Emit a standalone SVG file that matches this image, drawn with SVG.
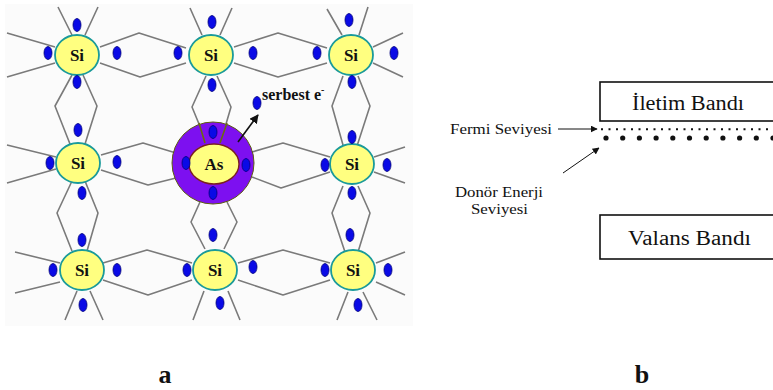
<svg xmlns="http://www.w3.org/2000/svg" width="773" height="390" viewBox="0 0 773 390">
  <defs>
    <style>
      .bond { fill: none; stroke: #7a7a7a; stroke-width: 1.6; stroke-linejoin: round; }
      .bond-in { fill: none; stroke: #6b6b10; stroke-width: 1.6; }
      .si { fill: #ffff80; stroke: #1a9a9a; stroke-width: 1.8; }
      .el { fill: #0a0ae6; stroke: #00007a; stroke-width: 0.8; }
      .lbl { font-family: 'Liberation Serif', 'DejaVu Serif', 'Times New Roman', serif; font-weight: bold; fill: #111; }
      .serif { font-family: 'Liberation Serif', 'DejaVu Serif', 'Times New Roman', serif; fill: #111; }
      .box { fill: #fff; stroke: #111; stroke-width: 1.6; }
      .pt { fill: #111; }
    </style>
    <marker id="ah" viewBox="0 0 10 10" refX="9" refY="5" markerWidth="7" markerHeight="7" orient="auto" markerUnits="userSpaceOnUse">
      <path d="M0,0 L10,5 L0,10 Z" fill="#111"/>
    </marker>
    <marker id="ah2" viewBox="0 0 10 10" refX="9" refY="5" markerWidth="9" markerHeight="9" orient="auto" markerUnits="userSpaceOnUse">
      <path d="M0,0 L10,5 L0,10 Z" fill="#111"/>
    </marker>
    <ellipse id="e" cx="0" cy="0" rx="4" ry="6.5" class="el"/>
  </defs>

  <!-- panel a: silicon lattice with arsenic donor -->
  <rect x="5" y="4" width="408" height="322" fill="#fbfbfb"/>

  <g id="connectors">
    <!-- horizontal bonds -->
    <path class="bond" d="M100,47 L139,33 L186,48 M100,63 L140,77 L186,63"/>
    <path class="bond" d="M234,47 L278,33 L327,48 M234,63 L278,77 L327,63"/>
    <path class="bond" d="M101,155 L143,143 L176,153 M101,170 L148,185 L176,178"/>
    <path class="bond" d="M252,152 L283,143 L330,157 M252,177 L281,188 L330,172"/>
    <path class="bond" d="M103,263 L147,250 L192,263 M103,280 L148,295 L192,280"/>
    <path class="bond" d="M238,263 L283,250 L330,263 M238,280 L283,295 L330,280"/>
    <!-- vertical bonds -->
    <path class="bond" d="M72,75 L55,106 L70,144 M83,75 L97,106 L85,144"/>
    <path class="bond" d="M206,76 L192,107 L199,124 M217,76 L231,107 L226,124"/>
    <path class="bond" d="M343,76 L332,106 L343,145 M358,76 L370,106 L357,146"/>
    <path class="bond" d="M72,181 L57,213 L72,251 M85,181 L98,213 L87,251"/>
    <path class="bond" d="M200,202 L191,222 L205,249 M227,202 L237,222 L224,249"/>
    <path class="bond" d="M343,186 L332,213 L345,252 M358,186 L370,213 L358,252"/>
    <!-- outer spokes -->
    <path class="bond" d="M58,7 L72,35 M98,7 L85,35 M7,33 L55,47 M7,77 L55,63"/>
    <path class="bond" d="M190,8 L202,35 M232,8 L220,35"/>
    <path class="bond" d="M327,9 L342,35 M368,7 L359,35 M373,47 L403,33 M373,63 L403,77"/>
    <path class="bond" d="M7,145 L56,157 M7,183 L56,169"/>
    <path class="bond" d="M374,157 L405,147 M374,172 L405,183"/>
    <path class="bond" d="M15,252 L60,263 M15,293 L60,282 M77,291 L65,320 M90,291 L103,320"/>
    <path class="bond" d="M204,291 L193,320 M228,291 L240,320"/>
    <path class="bond" d="M376,263 L405,252 M376,282 L405,295 M348,292 L337,320 M363,292 L377,320"/>
  </g>

  <!-- arsenic donor -->
  <g id="as">
    <circle cx="213" cy="163" r="41" fill="#7d10f0" stroke="#5c5c10" stroke-width="1"/>
    <path class="bond-in" d="M199,123 L205,143 M227,123 L220,143"/>
    <ellipse cx="214" cy="164" rx="25" ry="20" fill="#ffff80" stroke="#7a2020" stroke-width="1.4"/>
    <text class="lbl" x="214" y="170" font-size="17" text-anchor="middle">As</text>
  </g>

  <!-- silicon atoms -->
  <g id="si-1"><ellipse class="si" cx="77" cy="55" rx="22" ry="20"/><text class="lbl" x="77" y="61" font-size="17" text-anchor="middle">Si</text></g>
  <g id="si-2"><ellipse class="si" cx="211" cy="55" rx="22" ry="20"/><text class="lbl" x="211" y="61" font-size="17" text-anchor="middle">Si</text></g>
  <g id="si-3"><ellipse class="si" cx="351" cy="55" rx="22" ry="20"/><text class="lbl" x="351" y="61" font-size="17" text-anchor="middle">Si</text></g>
  <g id="si-4"><ellipse class="si" cx="78" cy="163" rx="22" ry="20"/><text class="lbl" x="78" y="169" font-size="17" text-anchor="middle">Si</text></g>
  <g id="si-5"><ellipse class="si" cx="352" cy="164" rx="22" ry="20"/><text class="lbl" x="352" y="170" font-size="17" text-anchor="middle">Si</text></g>
  <g id="si-6"><ellipse class="si" cx="82" cy="270" rx="22" ry="20"/><text class="lbl" x="82" y="276" font-size="17" text-anchor="middle">Si</text></g>
  <g id="si-7"><ellipse class="si" cx="215" cy="270" rx="22" ry="20"/><text class="lbl" x="215" y="276" font-size="17" text-anchor="middle">Si</text></g>
  <g id="si-8"><ellipse class="si" cx="353" cy="270" rx="22" ry="20"/><text class="lbl" x="353" y="276" font-size="17" text-anchor="middle">Si</text></g>

  <!-- valence electrons -->
  <g id="electrons">
    <use href="#e" x="77" y="25"/><use href="#e" x="48" y="53"/><use href="#e" x="117" y="53"/><use href="#e" x="77" y="82"/>
    <use href="#e" x="212" y="22"/><use href="#e" x="178" y="53"/><use href="#e" x="253" y="53"/><use href="#e" x="212" y="85"/>
    <use href="#e" x="349" y="20"/><use href="#e" x="317" y="53"/><use href="#e" x="394" y="53"/><use href="#e" x="352" y="82"/>
    <use href="#e" x="78" y="130"/><use href="#e" x="50" y="163"/><use href="#e" x="117" y="162"/><use href="#e" x="82" y="193"/>
    <use href="#e" x="213" y="132"/><use href="#e" x="186" y="163"/><use href="#e" x="246" y="165"/><use href="#e" x="213" y="193"/>
    <use href="#e" x="352" y="137"/><use href="#e" x="325" y="165"/><use href="#e" x="387" y="165"/><use href="#e" x="352" y="193"/>
    <use href="#e" x="82" y="240"/><use href="#e" x="53" y="270"/><use href="#e" x="117" y="270"/><use href="#e" x="83" y="305"/>
    <use href="#e" x="213" y="235"/><use href="#e" x="187" y="270"/><use href="#e" x="253" y="267"/><use href="#e" x="220" y="303"/>
    <use href="#e" x="350" y="235"/><use href="#e" x="325" y="270"/><use href="#e" x="388" y="270"/><use href="#e" x="358" y="305"/>
  </g>

  <!-- free electron -->
  <g id="free-electron">
    <use href="#e" x="257" y="103"/>
    <line x1="238" y1="142" x2="258" y2="115" stroke="#111" stroke-width="1.6" marker-end="url(#ah2)"/>
    <text class="lbl" x="262" y="100" font-size="16">serbest e<tspan dy="-7" font-size="10">-</tspan></text>
  </g>

  <text class="lbl" x="165" y="383" font-size="26" text-anchor="middle">a</text>

  <!-- panel b: band diagram -->
  <g id="iletim">
    <rect class="box" x="600" y="82" width="180" height="39"/>
    <text class="serif" x="632" y="110" font-size="20" textLength="112" lengthAdjust="spacingAndGlyphs">İletim Bandı</text>
  </g>
  <g id="valans">
    <rect class="box" x="600" y="215" width="180" height="44"/>
    <text class="serif" x="628" y="245" font-size="20" textLength="123" lengthAdjust="spacingAndGlyphs">Valans Bandı</text>
  </g>

  <!-- Fermi level: fine dotted line -->
  <line x1="601" y1="129.3" x2="773" y2="129.3" stroke="#111" stroke-width="2" stroke-dasharray="2 5.5" stroke-linecap="butt"/>
  <!-- donor level: large dots -->
  <g id="donor-dots" class="pt">
    <circle cx="606" cy="138" r="2.6"/><circle cx="622.7" cy="138" r="2.6"/><circle cx="639.4" cy="138" r="2.6"/>
    <circle cx="656.1" cy="138" r="2.6"/><circle cx="672.8" cy="138" r="2.6"/><circle cx="689.5" cy="138" r="2.6"/>
    <circle cx="706.2" cy="138" r="2.6"/><circle cx="722.9" cy="138" r="2.6"/><circle cx="739.6" cy="138" r="2.6"/>
    <circle cx="756.3" cy="138" r="2.6"/><circle cx="773" cy="138" r="2.6"/>
  </g>

  <g id="fermi-label">
    <text class="serif" x="450" y="134" font-size="14" textLength="102" lengthAdjust="spacingAndGlyphs">Fermi Seviyesi</text>
    <line x1="558" y1="129" x2="597" y2="129" stroke="#111" stroke-width="1" marker-end="url(#ah)"/>
  </g>
  <g id="donor-label">
    <text class="serif" x="455" y="197" font-size="14" textLength="88" lengthAdjust="spacingAndGlyphs">Donör Enerji</text>
    <text class="serif" x="471" y="214" font-size="14" textLength="57" lengthAdjust="spacingAndGlyphs">Seviyesi</text>
    <line x1="563" y1="173" x2="599" y2="148" stroke="#111" stroke-width="1" marker-end="url(#ah)"/>
  </g>

  <text class="lbl" x="642" y="383" font-size="26" text-anchor="middle">b</text>
</svg>
